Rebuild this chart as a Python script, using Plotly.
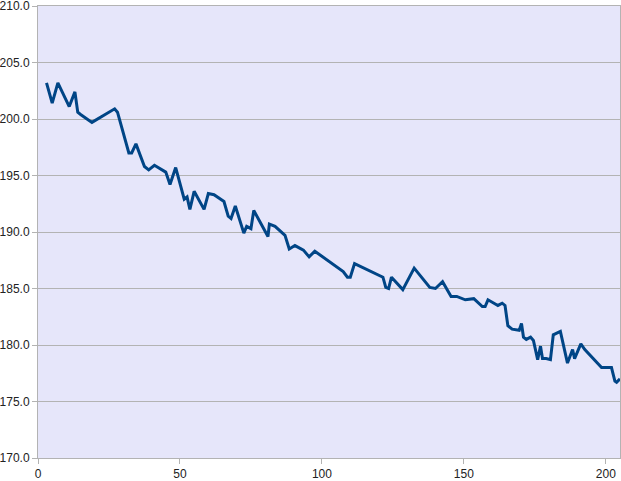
import plotly.graph_objects as go

x_vals = [3, 5, 7, 11, 13, 14, 15, 19, 27, 28, 32, 33, 34.5, 37.5, 39, 41, 45, 46.5, 48.5,
          51.5, 52.5, 53.5, 55, 58.5, 60, 62, 65.5, 67, 68, 69.5, 72.5, 73.5, 75, 76, 81,
          81.5, 83.5, 87, 88.5, 90.5, 93.5, 95.5, 97.5, 102.5, 107.5, 109, 110, 111.5,
          116.5, 121.5, 122.5, 123.5, 124.5, 128.5, 132.5, 138, 140, 142.5, 145.5, 147.5,
          150.5, 153.5, 156.5, 157.5, 158.5, 162, 163.5, 164.5, 165.5, 167, 169.5, 170.3,
          171, 172, 173.5, 174.5, 176, 177, 177.7, 179, 180.5, 181.5, 184, 186.5, 188.3,
          189, 191.2, 192.6, 198.5, 202, 203.2, 203.8, 205]
y_vals = [203.2, 201.4, 203.2, 201.1, 202.4, 200.6, 200.4, 199.7, 200.9, 200.6, 197.0, 197.0,
          197.8, 195.8, 195.5, 195.9, 195.3, 194.2, 195.7, 192.9, 193.1, 192.0, 193.6, 192.0,
          193.4, 193.3, 192.7, 191.4, 191.2, 192.3, 189.9, 190.5, 190.3, 191.9, 189.6, 190.7,
          190.5, 189.7, 188.5, 188.8, 188.4, 187.8, 188.3, 187.4, 186.5, 186.0, 186.0, 187.2,
          186.6, 186.0, 185.1, 185.0, 186.0, 184.9, 186.8, 185.1, 185.0, 185.6, 184.3, 184.3,
          184.0, 184.1, 183.4, 183.4, 184.0, 183.5, 183.7, 183.5, 181.7, 181.4, 181.3, 181.9,
          180.7, 180.5, 180.7, 180.4, 178.7, 179.9, 178.8, 178.8, 178.7, 180.9, 181.2, 178.4,
          179.6, 178.8, 180.1, 179.6, 178.0, 178.0, 176.8, 176.7, 177.0]

y_ticks = [170, 175, 180, 185, 190, 195, 200, 205, 210]
x_ticks = [0, 50, 100, 150, 200]

fig = go.Figure()
fig.add_trace(go.Scatter(
    x=x_vals, y=y_vals, mode="lines",
    line=dict(color="#004586", width=3),
    showlegend=False,
))

fig.update_layout(
    width=621, height=481,
    margin=dict(l=38, r=1, t=6, b=23),
    paper_bgcolor="white",
    plot_bgcolor="#E6E6FA",
    font=dict(family="Liberation Sans, Arial, sans-serif", size=12, color="#222222"),
)
fig.update_xaxes(
    range=[0, 205], tickvals=x_ticks, showgrid=False, zeroline=False,
    showline=True, linecolor="#B3B3B3", linewidth=1, mirror=True,
    ticks="outside", ticklen=5, tickcolor="#B3B3B3", automargin=False,
    ticklabeloverflow="allow",
)
fig.update_yaxes(
    range=[170, 210], tickvals=y_ticks, tickformat=".1f",
    showgrid=True, gridcolor="#B3B3B3", gridwidth=1, zeroline=False,
    showline=True, linecolor="#B3B3B3", linewidth=1, mirror=True,
    ticks="outside", ticklen=5, tickcolor="#B3B3B3", automargin=False,
    ticklabeloverflow="allow",
)

fig.write_html("out.html", config={"displayModeBar": False},
               post_script="document.body.style.margin='0';")
